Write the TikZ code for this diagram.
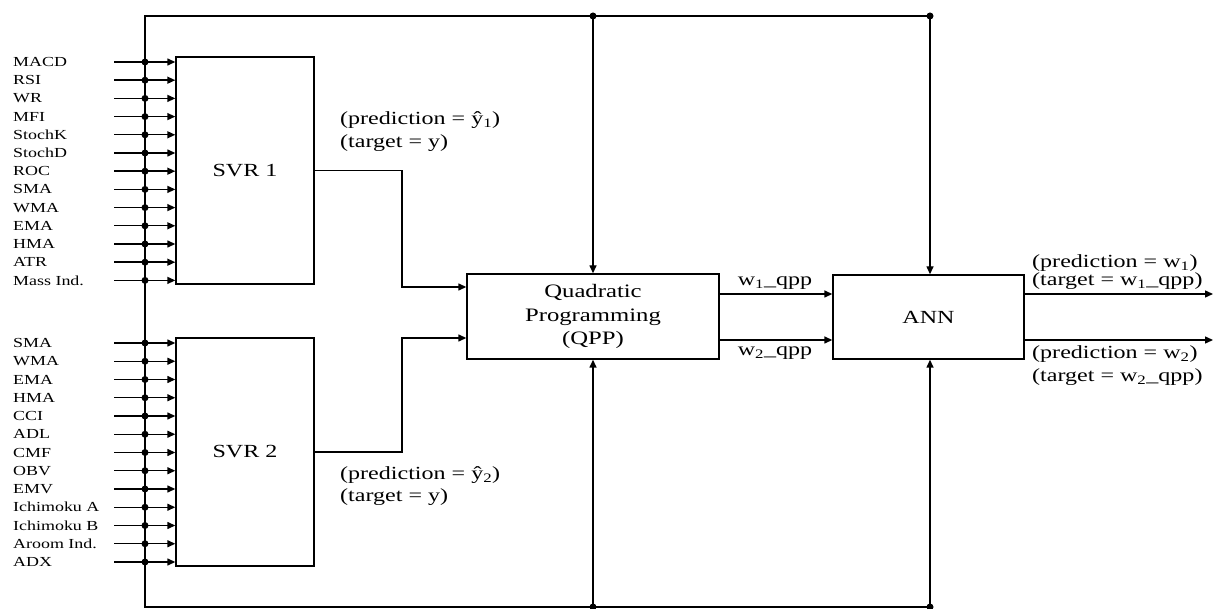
\documentclass[tikz,border=0pt]{standalone}
\usepackage{fontspec}
\setmainfont{Liberation Serif}[FakeStretch=1.3]
\usetikzlibrary{arrows.meta}
\begin{document}
\begin{tikzpicture}[x=1pt,y=-1pt,
  box/.style={draw, line width=1.4pt, inner sep=0pt, fill=white},
  ln/.style={line width=1.5pt},
  arr/.style={line width=1.4pt, -{Triangle[length=8pt,width=7pt]}},
  dot/.style={circle, fill=black, inner sep=0pt, minimum size=7pt},
  inlbl/.style={anchor=west, inner sep=0pt, font=\fontsize{13.8}{15}\selectfont},
  txt/.style={inner sep=0pt, font=\fontsize{18.5}{23}\selectfont},
]
\useasboundingbox (0,0) rectangle (1218,609);

% boxes
\node[box, minimum width=138pt, minimum height=227pt, txt] (svr1) at (245,170.5) {SVR 1};
\node[box, minimum width=138pt, minimum height=228pt, txt] (svr2) at (245,452) {SVR 2};
\node[box, minimum width=252pt, minimum height=85pt, align=center, font=\fontsize{19}{23.5}\selectfont] (qpp) at (593,316.5) {Quadratic\\Programming\\(QPP)};
\node[box, minimum width=191pt, minimum height=84pt, txt] (ann) at (928.5,317) {ANN};

% frame lines
\coordinate (tl) at (145,16);
\coordinate (bl) at (145,607);
\coordinate (tq) at (593,16);
\coordinate (ta) at (930,16);
\coordinate (bq) at (593,607);
\coordinate (ba) at (930,607);
\draw[ln] (ta) -- (tl) -- (bl) -- (ba);
\draw[arr] (tq) -- (tq |- qpp.north);
\draw[arr] (ta) -- (ta |- ann.north);
\draw[arr] (bq) -- (bq |- qpp.south);
\draw[arr] (ba) -- (ba |- ann.south);
\node[dot] at (tq) {};
\node[dot] at (ta) {};
\node[dot] at (bq) {};
\node[dot] at (ba) {};

% inputs SVR 1
\foreach \t [count=\i from 0] in {MACD,RSI,WR,MFI,StochK,StochD,ROC,SMA,WMA,EMA,HMA,ATR,Mass Ind.} {
  \pgfmathsetmacro\yy{62+\i*18.2}
  \node[inlbl] (a\i) at (13,\yy) {\t};
  \coordinate (as\i) at (114,\yy);
  \draw[arr] (as\i) -- (as\i -| svr1.west);
  \node[dot] (ad\i) at (145,\yy) {};
}
% inputs SVR 2
\foreach \t [count=\i from 0] in {SMA,WMA,EMA,HMA,CCI,ADL,CMF,OBV,EMV,Ichimoku A,Ichimoku B,Aroom Ind.,ADX} {
  \pgfmathsetmacro\yy{343+\i*18.25}
  \node[inlbl] (b\i) at (13,\yy) {\t};
  \coordinate (bs\i) at (114,\yy);
  \draw[arr] (bs\i) -- (bs\i -| svr2.west);
  \node[dot] (bd\i) at (145,\yy) {};
}

% SVR -> QPP
\coordinate (k1) at (402,287);
\coordinate (k2) at (402,338);
\draw[arr] (svr1.east) -- (svr1.east -| k1) -- (k1) -- (k1 -| qpp.west);
\draw[arr] (svr2.east) -- (svr2.east -| k2) -- (k2) -- (k2 -| qpp.west);

\node[txt, anchor=west] (p1) at (340,120) {(prediction = ŷ\textsubscript{1})};
\node[txt, anchor=west] (t1) at (340,143) {(target = y)};
\node[txt, anchor=west] (p2) at (340,475) {(prediction = ŷ\textsubscript{2})};
\node[txt, anchor=west] (t2) at (340,497) {(target = y)};

% QPP -> ANN
\coordinate (w1) at (719,294);
\coordinate (w2) at (719,340);
\draw[arr] (w1) -- (w1 -| ann.west);
\draw[arr] (w2) -- (w2 -| ann.west);
\node[txt] (lw1) at (775,283) {w\textsubscript{1}\_qpp};
\node[txt] (lw2) at (775,353) {w\textsubscript{2}\_qpp};

% ANN outputs
\coordinate (o1) at (1213,294);
\coordinate (o2) at (1213,340);
\draw[arr] (o1 -| ann.east) -- (o1);
\draw[arr] (o2 -| ann.east) -- (o2);
\node[txt, anchor=west] (op1) at (1032,263) {(prediction = w\textsubscript{1})};
\node[txt, anchor=west] (ot1) at (1032,281) {(target = w\textsubscript{1}\_qpp)};
\node[txt, anchor=west] (op2) at (1032,354) {(prediction = w\textsubscript{2})};
\node[txt, anchor=west] (ot2) at (1032,377) {(target = w\textsubscript{2}\_qpp)};
\end{tikzpicture}
\end{document}
